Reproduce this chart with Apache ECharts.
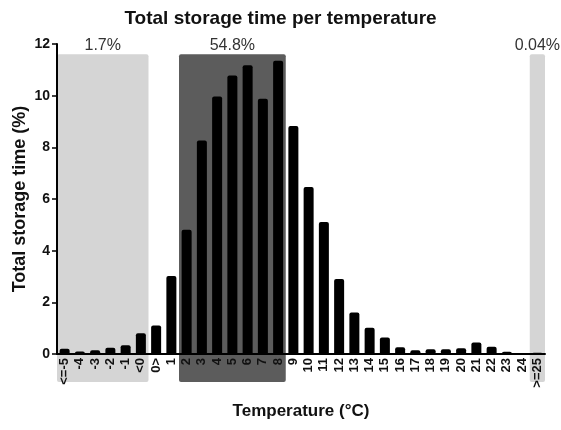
<!DOCTYPE html>
<html><head><meta charset="utf-8">
<script src="https://cdn.jsdelivr.net/npm/echarts@6/dist/echarts.min.js"></script>
<style>html,body{margin:0;padding:0;background:#fff}#c{width:561px;height:430px}</style>
</head><body><div id="c"></div>
<script>
const categories = ['<=-5','-4','-3','-2','-1','<0','0>','1','2','3','4','5','6','7','8','9','10','11','12','13','14','15','16','17','18','19','20','21','22','23','24','>=25'];
const values = [0.2,0.1,0.15,0.24,0.34,0.8,1.1,3.02,4.81,8.26,9.97,10.78,11.18,9.88,11.35,8.83,6.46,5.11,2.9,1.61,1.02,0.64,0.26,0.15,0.18,0.18,0.22,0.45,0.28,0.09,0.04,0.05];
const bandStart = ['<=-5','2','>=25'];
const bandEnd = ['<0','8','>=25'];
const bandLabels = ['1.7%','54.8%','0.04%'];
const bandTop = 11.6;
const yTicks = [0,2,4,6,8,10,12];

const bandFill = ['#d5d5d5','#5c5c5c','#d5d5d5'];
const bandData = bandStart.map((s,i)=>[categories.indexOf(s), categories.indexOf(bandEnd[i]), bandTop, i]);

const chart = echarts.init(document.getElementById('c'), null, {renderer:'canvas'});
chart.setOption({
  animation:false,
  backgroundColor:'#fff',
  title:{text:'Total storage time per temperature', left:'center', top:4,
    textStyle:{fontFamily:'Liberation Sans', fontWeight:'bold', fontSize:19, color:'#111'}},
  grid:{left:57, right:16, top:44, bottom:76, outerBoundsMode:'none', containLabel:false},
  xAxis:{type:'category', data:categories, z:10,
    name:'Temperature (°C)', nameLocation:'middle', nameGap:49, nameMoveOverlap:false,
    nameTextStyle:{fontFamily:'Liberation Sans', fontWeight:'bold', fontSize:17, color:'#111'},
    axisLine:{lineStyle:{color:'#000', width:2}},
    axisTick:{alignWithLabel:true, length:4, lineStyle:{color:'#000', width:1.5}},
    axisLabel:{rotate:90, interval:0, margin:4, fontFamily:'Liberation Sans', fontWeight:'bold', fontSize:13, color:'#111'}
  },
  yAxis:{type:'value', min:yTicks[0], max:yTicks[yTicks.length-1], interval:2, z:10,
    name:'Total storage time (%)', nameLocation:'middle', nameGap:28, nameMoveOverlap:false,
    nameTextStyle:{fontFamily:'Liberation Sans', fontWeight:'bold', fontSize:18, color:'#111'},
    splitLine:{show:false},
    axisLine:{show:true, lineStyle:{color:'#000', width:2}},
    axisTick:{show:true, length:5, lineStyle:{color:'#000', width:1.5}},
    axisLabel:{margin:7, fontFamily:'Liberation Sans', fontWeight:'bold', fontSize:14, color:'#111'}
  },
  series:[
    {type:'custom', z:0, silent:true, clip:false, data:bandData,
      encode:{x:[0,1], y:2},
      renderItem:function(params, api){
        const s = api.value(0), e = api.value(1), top = api.value(2), i = api.value(3);
        const w = api.size([1,0])[0];
        const p0 = api.coord([s, top]);
        const p1 = api.coord([e, 0]);
        const x0 = p0[0]-w/2, x1 = p1[0]+w/2;
        const y0 = p0[1], y1 = p1[1]+28;
        return {type:'group', children:[
          {type:'rect', shape:{x:x0, y:y0, width:x1-x0, height:y1-y0, r:2}, style:{fill:bandFill[i]}},
          {type:'text', x:(x0+x1)/2, y:y0-1, style:{text:bandLabels[i], fill:'#333', font:'16px "Liberation Sans"', align:'center', verticalAlign:'bottom'}}
        ]};
      }
    },
    {type:'bar', z:2, data:values, barWidth:10, itemStyle:{color:'#000', borderRadius:[2,2,0,0]}}
  ]
});
</script></body></html>
